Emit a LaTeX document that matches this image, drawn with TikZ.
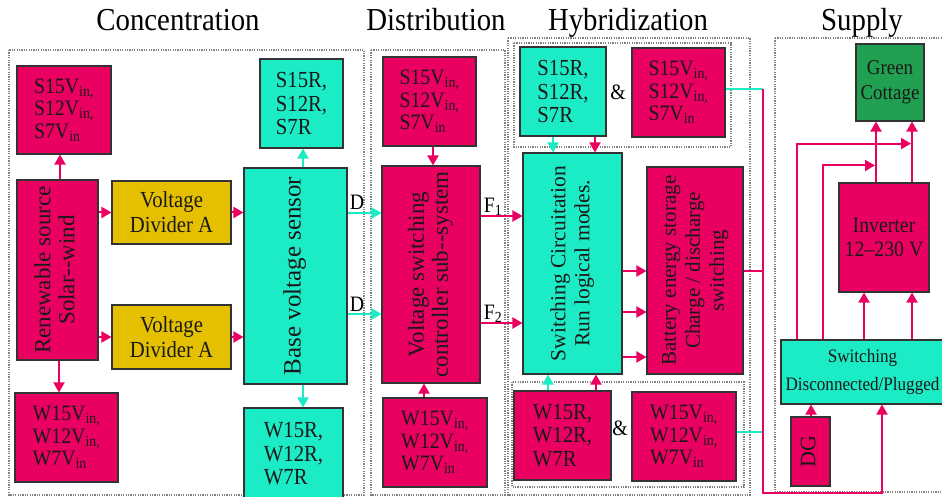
\documentclass[tikz,border=0pt]{standalone}
\usepackage{graphicx}
\usepackage{fontspec}
\setmainfont{Liberation Serif}[FakeStretch=0.9]
\newfontfamily\rotfont{Liberation Serif}
\usetikzlibrary{calc,arrows.meta}
\definecolor{mag}{RGB}{234,0,96}
\definecolor{cya}{RGB}{28,236,198}
\definecolor{gld}{RGB}{228,192,0}
\definecolor{grn}{RGB}{32,160,80}
\newcommand\rt[1]{\rotatebox{90}{\begin{tabular}{@{}c@{}}#1\end{tabular}}}
\newcommand\sbs[1]{\textsubscript{#1}}
\begin{document}
\begin{tikzpicture}[x=1pt,y=-1pt,
  bx/.style={draw=black!80, line width=1.1pt, inner sep=0pt, text=black!90},
  mbox/.style={bx, fill=mag},
  cbox/.style={bx, fill=cya},
  gbox/.style={bx, fill=gld},
  ltxt/.style={align=left, font=\fontsize{22}{22.5}\selectfont},
  rfont/.style={font=\rotfont\fontsize{#1}{24}\selectfont},
  frm/.style={draw=black!50, line width=1.4pt, dash pattern=on 1.2pt off 1.2pt},
  marr/.style={draw=mag, line width=2pt, -{Triangle[length=10pt,width=11pt]}},
  carr/.style={draw=cya, line width=2pt, -{Triangle[length=10pt,width=11pt]}},
  mln/.style={draw=mag, line width=2pt},
  cln/.style={draw=cya, line width=2pt},
  ttl/.style={font=\fontsize{32}{32}\selectfont, anchor=base, inner sep=0pt},
  lbl/.style={font=\fontsize{22}{22}\selectfont, anchor=base, inner sep=0pt},
]
\useasboundingbox (0,0) rectangle (942,497);
\fill[white] (0,0) rectangle (942,497);

% titles
\node[ttl] (t1) at (178,31) {Concentration};
\node[ttl] (t2) at (436,31) {Distribution};
\node[ttl] (t3) at (628,31) {Hybridization};
\node[ttl] (t4) at (862,31) {Supply};

% frames
\draw[frm] (9,50) rectangle (364,495);
\draw[frm] (371,50) rectangle (505,495);
\draw[frm] (508,38) rectangle (750,495);
\draw[frm] (514,43) rectangle (731,147);
\draw[frm] (512,382) rectangle (744,487);
\draw[frm] (775,38) rectangle (960,492);

% concentration
\node[mbox, ltxt, minimum width=94, minimum height=88] (sv1) at (64,110) {S15V\sbs{in,}\\S12V\sbs{in,}\\S7V\sbs{in}};
\node[mbox, rfont=23, minimum width=81, minimum height=180] (ren) at (57.5,270) {\rt{Renewable source\\Solar--wind}};
\node[mbox, ltxt, minimum width=103, minimum height=89] (wv1) at (66.5,437.5) {W15V\sbs{in,}\\W12V\sbs{in,}\\W7V\sbs{in}};
\node[gbox, align=center, font=\fontsize{23}{25}\selectfont, minimum width=119, minimum height=63] (vda1) at (171.5,212.5) {Voltage\\Divider A};
\node[gbox, align=center, font=\fontsize{23}{25}\selectfont, minimum width=119, minimum height=64] (vda2) at (171.5,337) {Voltage\\Divider A};
\node[cbox, rfont=25, minimum width=103, minimum height=216] (base) at (295.5,276) {\rt{Base voltage sensor}};
\node[cbox, ltxt, font=\fontsize{23}{23.5}\selectfont, minimum width=83, minimum height=89] (sr1) at (301.5,103.5) {S15R,\\S12R,\\S7R};
\node[cbox, ltxt, font=\fontsize{23}{23.5}\selectfont, minimum width=99, minimum height=92] (wr1) at (293.5,454) {W15R,\\W12R,\\W7R};

% distribution
\node[mbox, ltxt, minimum width=93, minimum height=89] (sv2) at (429.5,101.5) {S15V\sbs{in,}\\S12V\sbs{in,}\\S7V\sbs{in}};
\node[mbox, rfont=23, minimum width=98, minimum height=217] (vsc) at (431,274.5) {\rt{Voltage switching\\controller sub--system}};
\node[mbox, ltxt, minimum width=104, minimum height=89] (wv2) at (435,442.5) {W15V\sbs{in,}\\W12V\sbs{in,}\\W7V\sbs{in}};

% hybridization
\node[cbox, ltxt, font=\fontsize{23}{23.5}\selectfont, minimum width=86, minimum height=89] (sr2) at (563,91.5) {S15R,\\S12R,\\S7R};
\node[mbox, ltxt, minimum width=93, minimum height=89] (sv3) at (678.5,92.5) {S15V\sbs{in,}\\S12V\sbs{in,}\\S7V\sbs{in}};
\node[cbox, rfont=21.5, minimum width=99, minimum height=221] (swc) at (572.5,263.5) {\rt{Switching Circuitation\\Run logical modes.}};
\node[mbox, rfont=21, minimum width=96, minimum height=207] (bat) at (695,270.5) {\rt{Battery energy storage\\Charge / discharge\\switching}};
\node[mbox, ltxt, font=\fontsize{23}{23.5}\selectfont, minimum width=97, minimum height=89] (wr2) at (562.5,435.5) {W15R,\\W12R,\\W7R};
\node[mbox, ltxt, minimum width=104, minimum height=89] (wv3) at (684,436.5) {W15V\sbs{in,}\\W12V\sbs{in,}\\W7V\sbs{in}};
\node[lbl, anchor=center] (amp1) at (618,92) {\&};
\node[lbl, anchor=center] (amp2) at (620,428) {\&};

% supply
\node[bx, fill=grn, align=center, font=\fontsize{21}{25}\selectfont, minimum width=68, minimum height=77] (gc) at (890,82.5) {Green\\Cottage};
\node[mbox, align=center, font=\fontsize{22}{24}\selectfont, minimum width=90, minimum height=109] (inv) at (884,237.5) {Inverter\\12--230 V};
\node[cbox, align=center, font=\fontsize{19}{28}\selectfont, minimum width=163, minimum height=64] (sw) at (862.5,372) {Switching\\Disconnected/Plugged};
\node[mbox, rfont=22, minimum width=39, minimum height=69] (dg) at (810.5,451.5) {\rt{DG}};

% concentration arrows
\draw[marr] ($(ren.north)+(2.5,0)$) -- ($(sv1.south)+(-4,0)$);
\draw[marr] ($(ren.south)+(1.5,0)$) -- ($(wv1.north)+(-7.5,0)$);
\draw[marr] ($(ren.east)+(0,-57.5)$) -- (vda1.west);
\draw[marr] ($(ren.east)+(0,67)$) -- (vda2.west);
\draw[marr] (vda1.east) -- ($(base.west)+(0,-63.5)$);
\draw[marr] (vda2.east) -- ($(base.west)+(0,61)$);
\draw[carr] ($(base.north)+(7.5,0)$) -- ($(sr1.south)+(1.5,0)$);
\draw[carr] ($(base.south)+(7.5,0)$) -- ($(wr1.north)+(9.5,0)$);
\draw[carr] ($(base.east)+(0,-63)$) -- ($(vsc.west)+(0,-61.5)$);
\draw[carr] ($(base.east)+(0,38)$) -- ($(vsc.west)+(0,39.5)$);
\node[lbl] (d1) at (357,210) {D};
\node[lbl] (d2) at (357,311) {D};

% distribution arrows
\draw[marr] ($(sv2.south)+(3.5,0)$) -- ($(vsc.north)+(2,0)$);
\draw[marr] ($(wv2.north)+(-11,0)$) -- ($(vsc.south)+(-7,0)$);
\draw[marr] ($(vsc.east)+(0,-58.5)$) -- ($(swc.west)+(0,-47.5)$);
\draw[marr] ($(vsc.east)+(0,48.5)$) -- ($(swc.west)+(0,59.5)$);
\node[lbl] (f1) at (493,212) {F\sbs{1}};
\node[lbl] (f2) at (493,319) {F\sbs{2}};

% hybridization arrows
\draw[carr] ($(sr2.south)+(-10,0)$) -- ($(swc.north)+(-19.5,0)$);
\draw[marr] ($(sr2.south)+(32,0)$) -- ($(swc.north)+(22.5,0)$);
\draw[carr] ($(wr2.north)+(-14.5,0)$) -- ($(swc.south)+(-24.5,0)$);
\draw[marr] ($(wr2.north)+(33.5,0)$) -- ($(swc.south)+(23.5,0)$);
\draw[marr] ($(swc.east)+(0,7.5)$) -- ($(bat.west)+(0,0.5)$);
\draw[marr] ($(swc.east)+(0,48.5)$) -- ($(bat.west)+(0,41.5)$);
\draw[marr] ($(swc.east)+(0,93.5)$) -- ($(bat.west)+(0,86.5)$);

% bus to supply
\coordinate (bt) at (763,89);
\coordinate (bb) at (763,493);
\coordinate (s3e) at ($(sv3.east)+(0,-3.5)$);
\coordinate (w3e) at ($(wv3.east)+(0,-4.5)$);
\draw[cln] (s3e) -- (s3e -| bt);
\draw[cln] (w3e) -- (w3e -| bt);
\draw[mln] (bat.east) -- (bat.east -| bt);
\draw[marr] (bt) -- (bb) -| ($(sw.south)+(19.5,0)$);

% supply arrows
\draw[marr] ($(dg.north)+(0.5,0)$) -- ($(sw.south)+(-51.5,0)$);
\draw[marr] ($(sw.north)+(1.5,0)$) -- ($(inv.south)+(-20,0)$);
\draw[marr] ($(sw.north)+(49.5,0)$) -- ($(inv.south)+(28,0)$);
\draw[marr] ($(inv.north)+(-8,0)$) -- ($(gc.south)+(-14,0)$);
\draw[marr] ($(inv.north)+(28,0)$) -- ($(gc.south)+(22,0)$);
\draw[marr] ($(sw.north)+(-65.5,0)$) |- ($(gc.south)+(21,22)$);
\draw[marr] ($(sw.north)+(-39.5,0)$) |- ($(inv.north)+(-9,-17)$);
\end{tikzpicture}
\end{document}
